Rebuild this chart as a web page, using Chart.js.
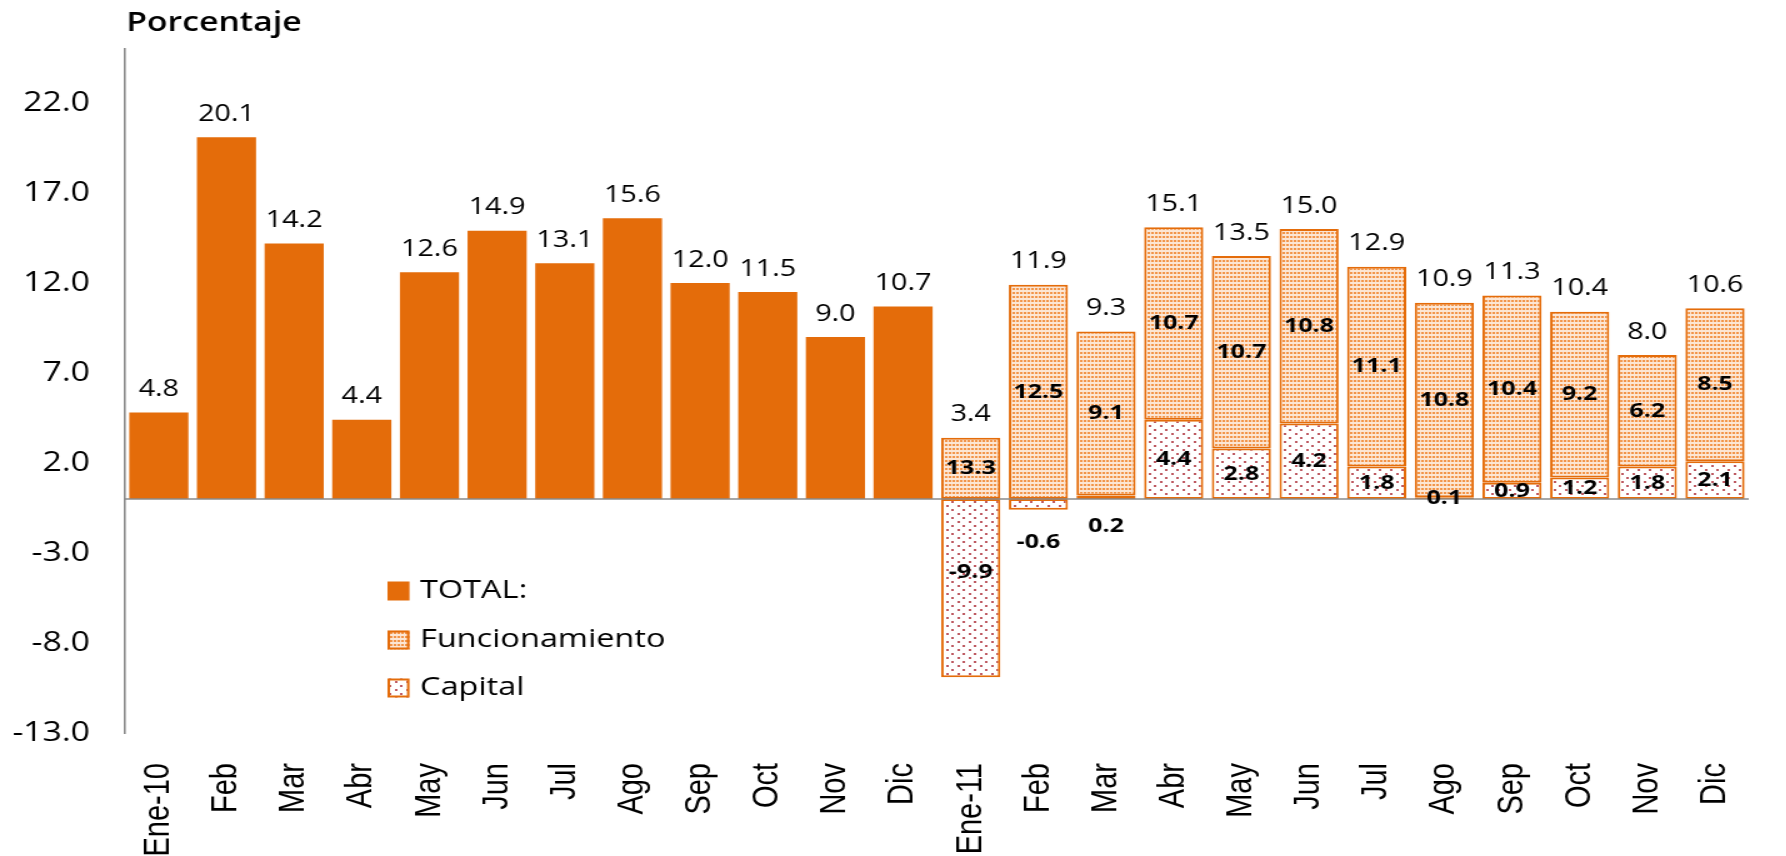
<!DOCTYPE html>
<html>
<head>
<meta charset="utf-8">
<script src="https://cdn.jsdelivr.net/npm/chart.js@4"></script>
<style>
  html, body { margin: 0; padding: 0; background: #fff; overflow: hidden; }
  /* the reference is stretched horizontally, so the chart is drawn narrower and widened */
  #wrap { width: 1429px; height: 856px; transform: scaleX(1.25); transform-origin: 0 0; }
</style>
</head>
<body>
<div id="wrap"><canvas id="chart"></canvas></div>
<script>
const months = ['Ene-10', 'Feb', 'Mar', 'Abr', 'May', 'Jun', 'Jul', 'Ago', 'Sep', 'Oct', 'Nov', 'Dic',
                'Ene-11', 'Feb', 'Mar', 'Abr', 'May', 'Jun', 'Jul', 'Ago', 'Sep', 'Oct', 'Nov', 'Dic'];
const total = [4.8, 20.1, 14.2, 4.4, 12.6, 14.9, 13.1, 15.6, 12.0, 11.5, 9.0, 10.7,
               3.4, 11.9, 9.3, 15.1, 13.5, 15.0, 12.9, 10.9, 11.3, 10.4, 8.0, 10.6];
const funcionamiento = [null, null, null, null, null, null, null, null, null, null, null, null,
                        13.3, 12.5, 9.1, 10.7, 10.7, 10.8, 11.1, 10.8, 10.4, 9.2, 6.2, 8.5];
const capital = [null, null, null, null, null, null, null, null, null, null, null, null,
                 -9.9, -0.6, 0.2, 4.4, 2.8, 4.2, 1.8, 0.1, 0.9, 1.2, 1.8, 2.1];
const yTicks = [-13, -8, -3, 2, 7, 12, 17, 22];

const ORANGE = '#E46C0A';
const GREY = '#8A8A8A';

function makePattern(w, h, bg, fg, dots) {
  const c = document.createElement('canvas');
  c.width = w; c.height = h;
  const g = c.getContext('2d');
  g.fillStyle = bg;
  g.fillRect(0, 0, w, h);
  g.fillStyle = fg;
  dots.forEach(d => g.fillRect(d[0], d[1], d[2], d[3]));
  return g.createPattern(c, 'repeat');
}

const denseDots = makePattern(3, 4, '#FCE6D4', '#F29448', [[0, 0, 2, 2]]);
const sparseDots = makePattern(9, 8, '#FFFFFF', '#BE5A62', [[1, 1, 2, 2], [5, 5, 2, 2]]);

// labels that Excel put off-centre (capital series), offset in px
const capShift = {12: -16, 13: 38, 14: 29};

const extras = {
  id: 'extras',
  afterDatasetsDraw(chart) {
    const {ctx, chartArea, scales: {x, y}} = chart;
    ctx.save();

    // zero line
    const y0 = y.getPixelForValue(0);
    ctx.strokeStyle = GREY;
    ctx.lineWidth = 1.6;
    ctx.beginPath();
    ctx.moveTo(chartArea.left, y0);
    ctx.lineTo(chartArea.right, y0);
    ctx.stroke();

    ctx.fillStyle = '#000';
    ctx.textAlign = 'center';
    ctx.textBaseline = 'middle';

    ctx.font = '23px "Open Sans"';
    total.forEach((v, i) => {
      ctx.fillText(v.toFixed(1), x.getPixelForValue(i), y.getPixelForValue(v) - 23);
    });

    ctx.font = 'bold 20px "Open Sans"';
    funcionamiento.forEach((v, i) => {
      if (v === null) return;
      const lo = Math.max(capital[i], 0);
      ctx.fillText(v.toFixed(1), x.getPixelForValue(i), y.getPixelForValue((lo + total[i]) / 2));
    });
    capital.forEach((v, i) => {
      if (v === null) return;
      const py = y.getPixelForValue(v / 2) + (capShift[i] || 0);
      ctx.fillText(v.toFixed(1), x.getPixelForValue(i), py);
    });

    // axis title
    ctx.textAlign = 'left';
    ctx.font = '600 27px "Open Sans"';
    ctx.fillText('Porcentaje', chartArea.left + 1, 23);

    // legend
    const lx = 310, rows = [591, 640, 688];
    ctx.font = '26px "Open Sans"';
    chart.data.datasets.forEach((ds, k) => {
      const ry = rows[k];
      ctx.fillStyle = ds.backgroundColor;
      ctx.fillRect(lx, ry - 9.5, 17.6, 19);
      if (ds.borderWidth) {
        ctx.strokeStyle = ORANGE;
        ctx.lineWidth = 2;
        ctx.strokeRect(lx + 1, ry - 8.5, 15.6, 17);
      }
      ctx.fillStyle = '#000';
      ctx.fillText(ds.label, lx + 26, ry);
    });

    ctx.restore();
  }
};

new Chart(document.getElementById('chart'), {
  type: 'bar',
  data: {
    labels: months,
    datasets: [{
      label: 'TOTAL:',
      data: total.map((v, i) => funcionamiento[i] === null ? v : null),
      backgroundColor: ORANGE,
      borderWidth: 0
    }, {
      label: 'Funcionamiento',
      data: total.map((v, i) => funcionamiento[i] === null ? null : [Math.max(capital[i], 0), v]),
      backgroundColor: denseDots,
      borderColor: ORANGE,
      borderWidth: 2,
      borderSkipped: false
    }, {
      label: 'Capital',
      data: capital.map(v => v === null ? null : [0, v]),
      backgroundColor: sparseDots,
      borderColor: ORANGE,
      borderWidth: 2,
      borderSkipped: false
    }]
  },
  options: {
    responsive: true,
    maintainAspectRatio: false,
    animation: false,
    events: [],
    barPercentage: 0.874,
    categoryPercentage: 1.0,
    layout: { padding: { left: 0, right: 10.6, top: 49, bottom: 0 } },
    plugins: {
      legend: { display: false },
      tooltip: { enabled: false }
    },
    scales: {
      x: {
        stacked: true,
        grid: { display: false },
        border: { display: false },
        afterFit: s => { s.height = 123; },
        ticks: {
          autoSkip: false,
          maxRotation: 90,
          minRotation: 90,
          padding: 22,
          color: '#000',
          font: { family: 'Liberation Sans', size: 29 }
        }
      },
      y: {
        min: -13,
        max: 25,
        afterBuildTicks: s => { s.ticks = yTicks.map(v => ({ value: v })); },
        afterFit: s => { s.width = 100; },
        grid: { display: false },
        border: { display: true, color: GREY, width: 1.6 },
        ticks: {
          padding: 20,
          color: '#000',
          font: { family: 'Open Sans', size: 27 },
          callback: v => Number(v).toFixed(1)
        }
      }
    }
  },
  plugins: [extras]
});
</script>
</body>
</html>
